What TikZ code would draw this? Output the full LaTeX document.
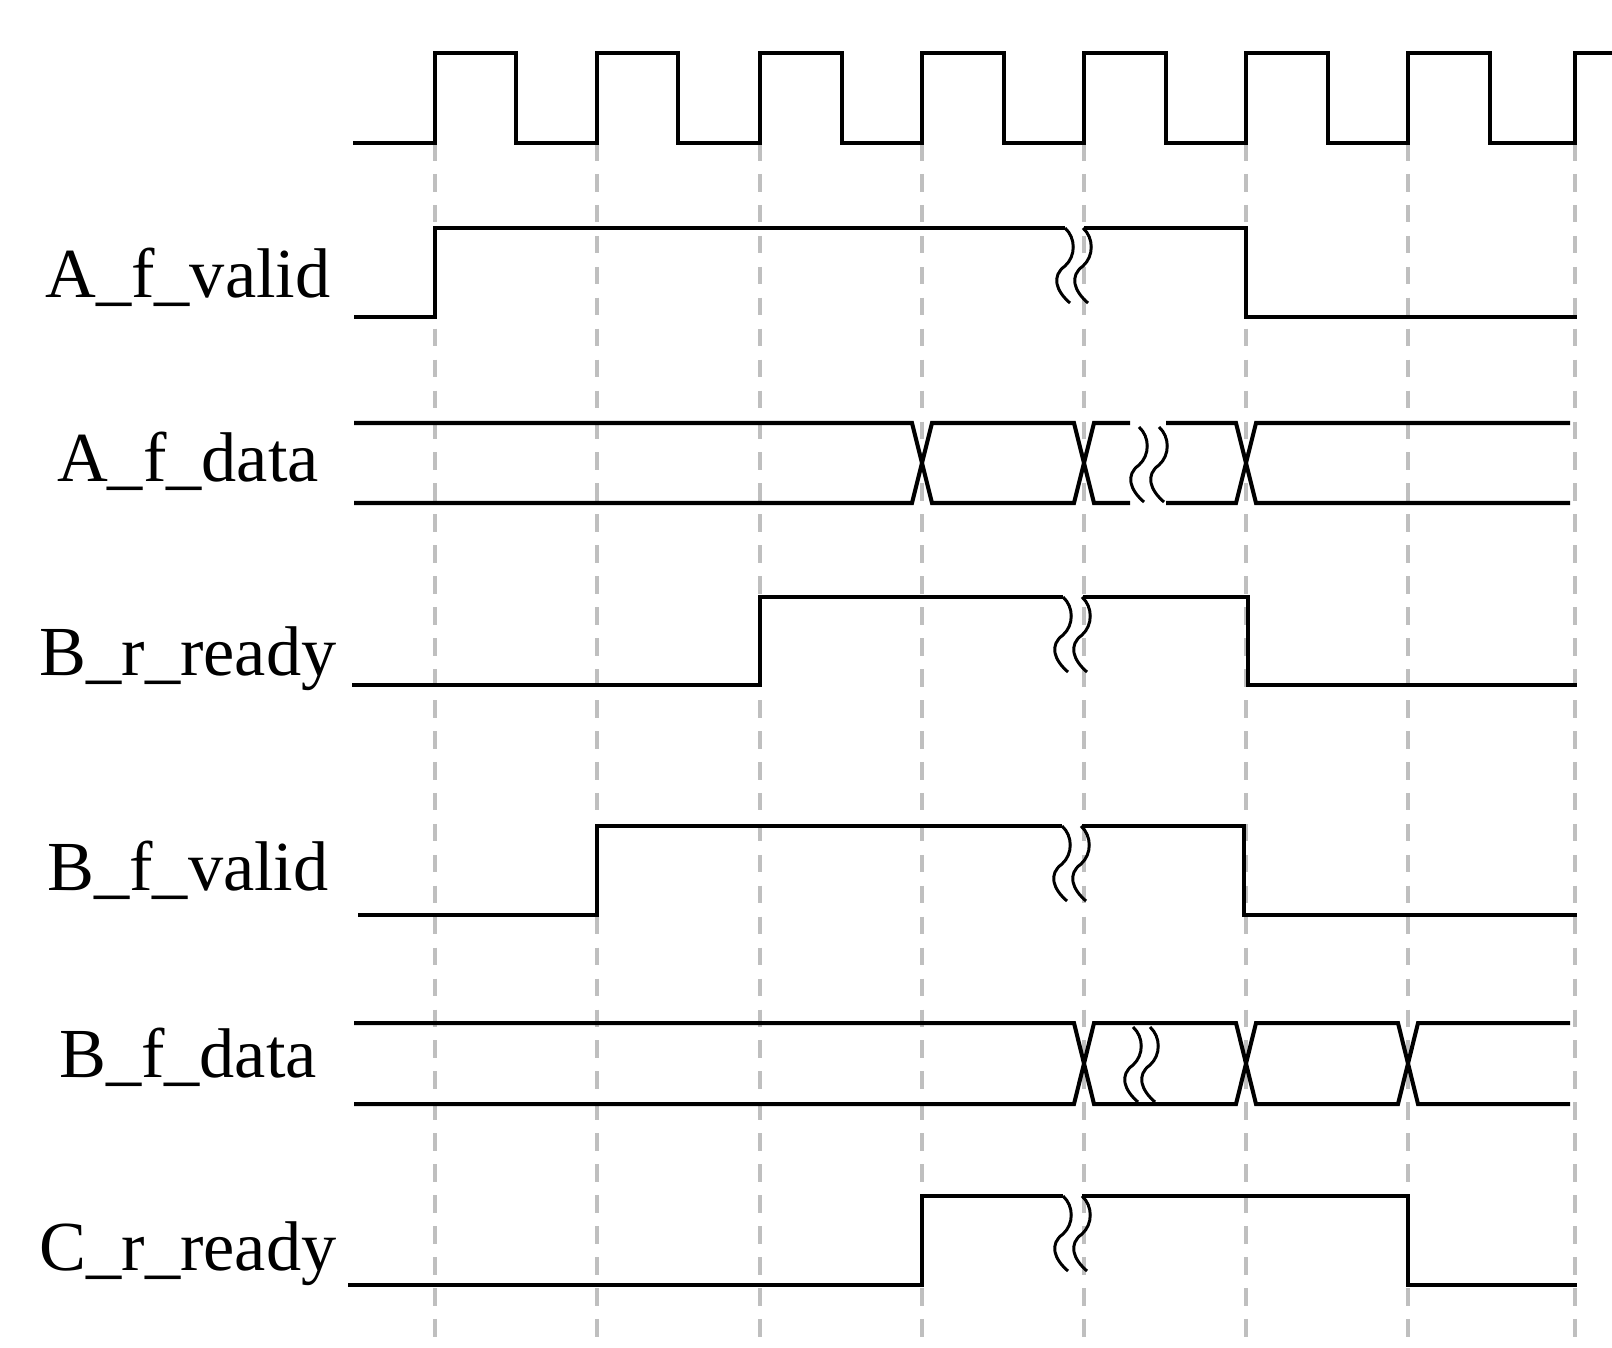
\documentclass[tikz,border=0pt]{standalone}
\usepackage{fontspec}
\setmainfont{Liberation Serif}
\usepackage{tikz}

% one S-shaped break mark, 75 units high, starting at its top end
\newcommand{\brk}[2]{\draw[brk] (#1,#2) .. controls +(11,10) and +(11,-10) .. ++(0,38) .. controls +(-14,10) and +(-14,-12) .. ++(5,37);}

\begin{document}
\begin{tikzpicture}[x=0.01cm, y=-0.01cm,
  wave/.style={line width=1.15pt, line join=miter},
  grid/.style={black!25, line width=1.1pt, dash pattern=on 5pt off 3.8pt},
  brk/.style={line width=0.85pt},
  lbl/.style={anchor=base, inner sep=0pt, font=\fontsize{20}{24}\selectfont}]
\useasboundingbox (0,0) rectangle (1612,1347);
\foreach \x in {435,597,760,922,1084,1246,1408,1575}
  \draw[grid] (\x,143) -- (\x,1347); % clock edges
\draw[wave] (353,143) \foreach \r/\f in {435/516,597/678,760/842,922/1004,1084/1166,1246/1328,1408/1490}
  { -- (\r,143) -- (\r,53) -- (\f,53) -- (\f,143) } -- (1575,143) -- (1575,53) -- (1612,53); % clk
\node[lbl] (afvalid) at (188,297) {A\_f\_valid};
\draw[wave] (354,317) -- (435,317) -- (435,228) -- (1065,228);
\draw[wave] (1084,228) -- (1246,228) -- (1246,317) -- (1577,317);
\brk{1065}{228} \brk{1083}{228}
\node[lbl] (afdata) at (188,481) {A\_f\_data};
\draw[wave] (354,423) -- (912,423) -- (932,503) -- (1074,503) -- (1094,423) -- (1130,423);
\draw[wave] (354,503) -- (912,503) -- (932,423) -- (1074,423) -- (1094,503) -- (1130,503);
\draw[wave] (1166,423) -- (1236,423) -- (1256,503) -- (1570,503);
\draw[wave] (1166,503) -- (1236,503) -- (1256,423) -- (1570,423);
\brk{1139}{427} \brk{1159}{427}
\node[lbl] (brready) at (188,675) {B\_r\_ready};
\draw[wave] (352,685) -- (760,685) -- (760,597) -- (1063,597);
\draw[wave] (1083,597) -- (1248,597) -- (1248,685) -- (1577,685);
\brk{1063}{597} \brk{1082}{597}
\node[lbl] (bfvalid) at (188,890) {B\_f\_valid};
\draw[wave] (358,915) -- (597,915) -- (597,826) -- (1062,826);
\draw[wave] (1082,826) -- (1244,826) -- (1244,915) -- (1577,915);
\brk{1062}{826} \brk{1081}{826}
\node[lbl] (bfdata) at (188,1077) {B\_f\_data};
\draw[wave] (354,1023) -- (1074,1023) -- (1094,1104) -- (1236,1104) -- (1256,1023) -- (1398,1023) -- (1418,1104) -- (1570,1104);
\draw[wave] (354,1104) -- (1074,1104) -- (1094,1023) -- (1236,1023) -- (1256,1104) -- (1398,1104) -- (1418,1023) -- (1570,1023);
\brk{1133}{1027} \brk{1150}{1027}
\node[lbl] (crready) at (188,1270) {C\_r\_ready};
\draw[wave] (348,1285) -- (922,1285) -- (922,1196) -- (1063,1196);
\draw[wave] (1082,1196) -- (1408,1196) -- (1408,1285) -- (1577,1285);
\brk{1063}{1196} \brk{1082}{1196}
\end{tikzpicture}
\end{document}
